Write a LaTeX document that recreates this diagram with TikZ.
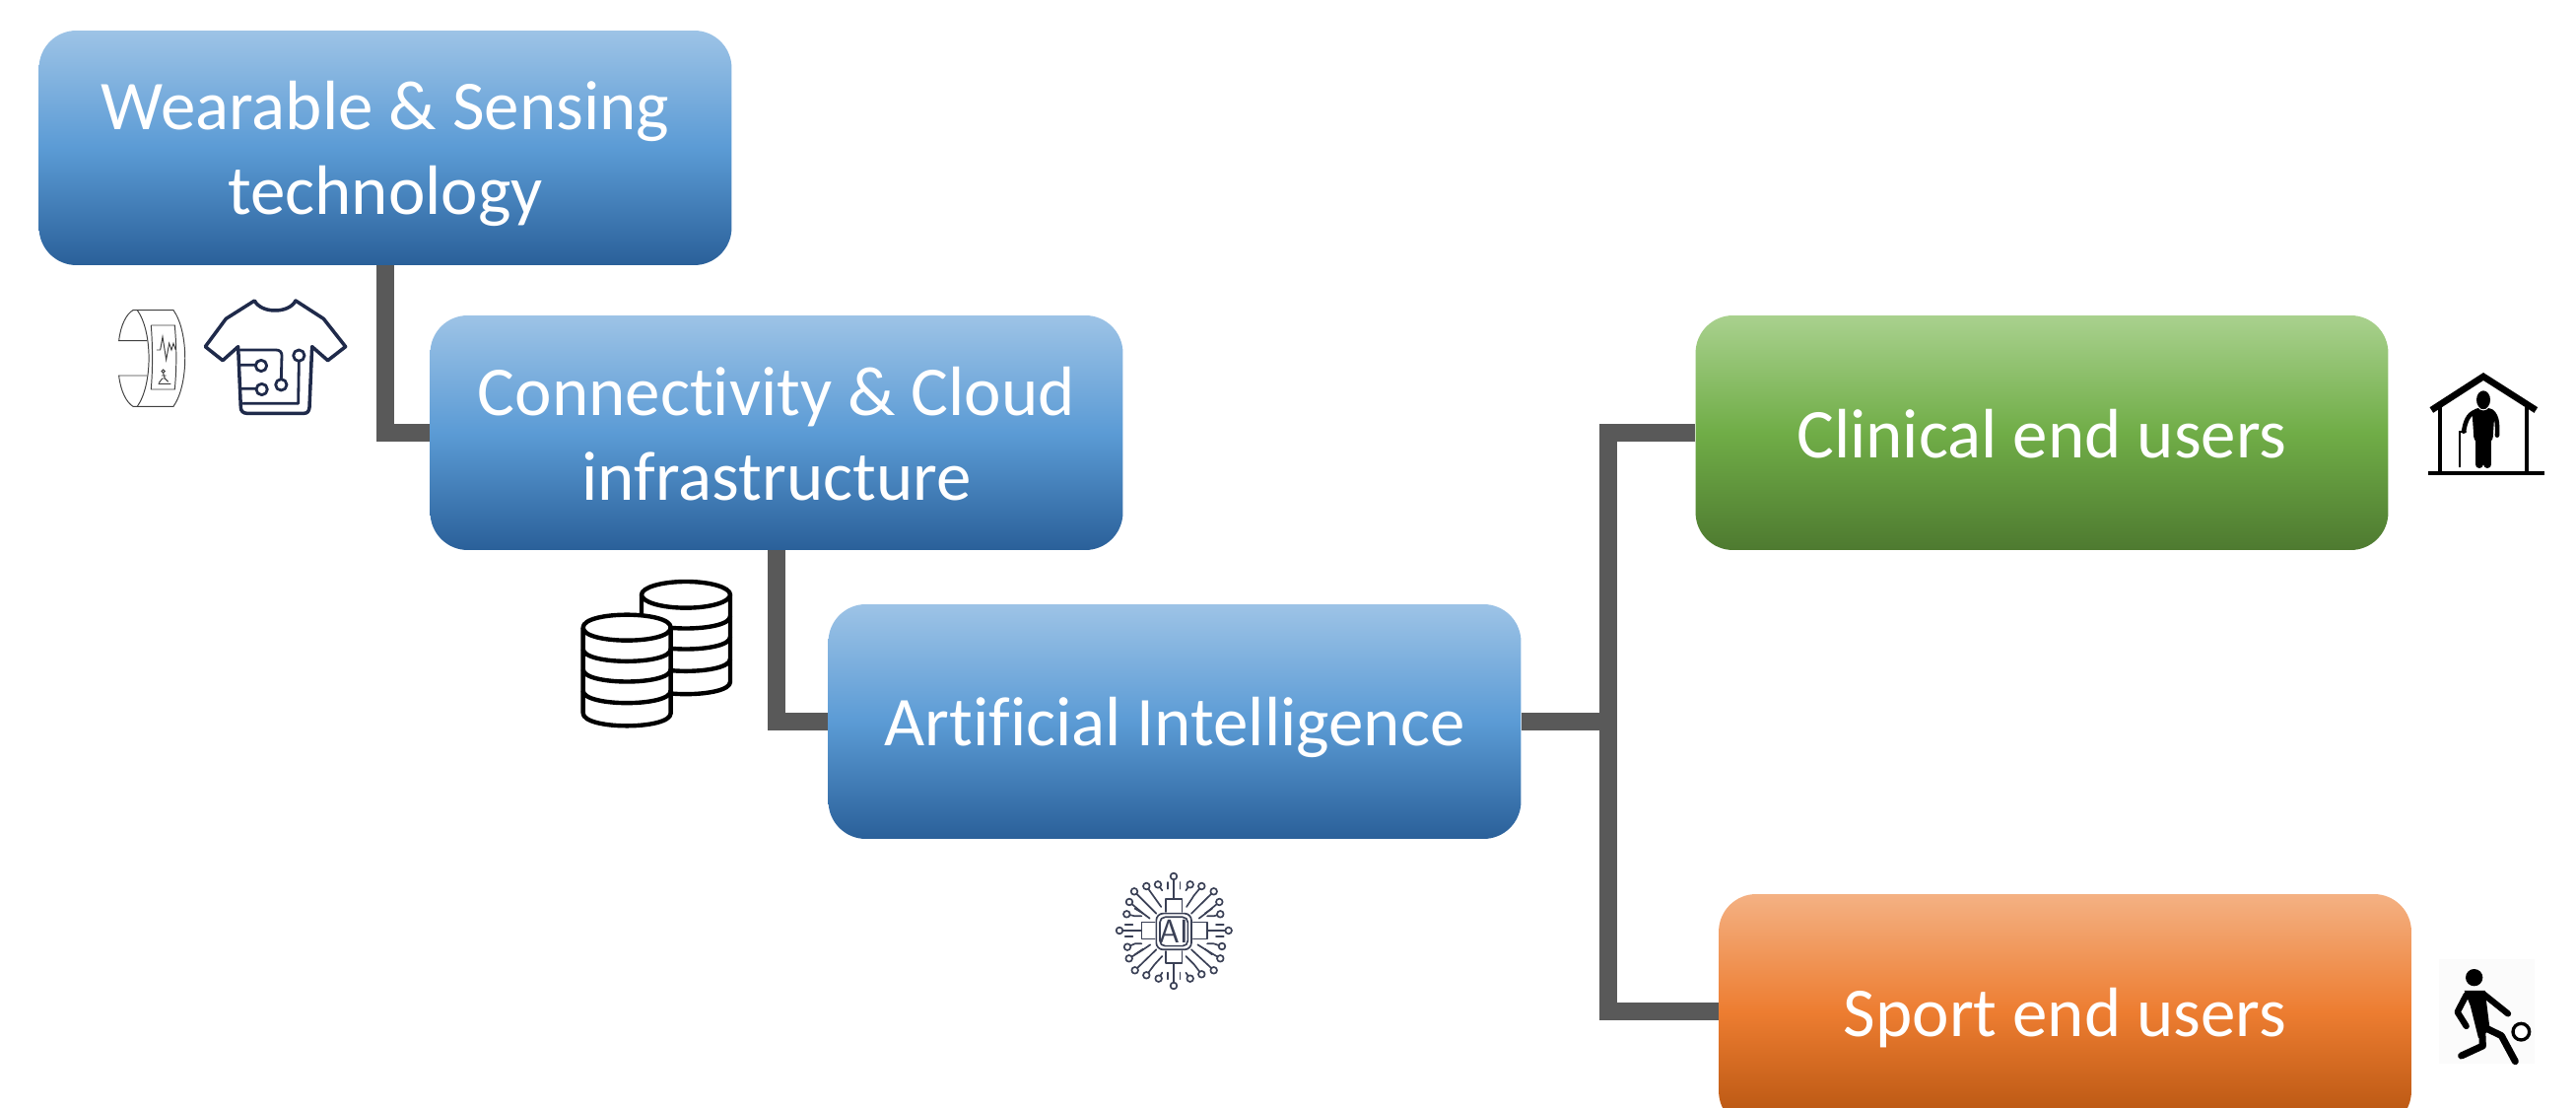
\documentclass[tikz,border=0pt]{standalone}
\usepackage{fontspec}
\setmainfont[RawFeature={-liga;-clig}]{Carlito}
\definecolor{btop}{HTML}{9DC3E6}\definecolor{bmid}{HTML}{5B9BD5}\definecolor{bbot}{HTML}{2A6099}
\definecolor{gtop}{HTML}{A9D18E}\definecolor{gmid}{HTML}{70AD47}\definecolor{gbot}{HTML}{4E7A30}
\definecolor{otop}{HTML}{F4B183}\definecolor{omid}{HTML}{ED7D31}\definecolor{obot}{HTML}{B4530F}
\definecolor{linkgrey}{HTML}{595959}
\definecolor{navy}{HTML}{1F2A4A}
\definecolor{slate}{HTML}{3A4055}
\definecolor{bandgrey}{HTML}{404040}
\pgfdeclareverticalshading{blueg}{100bp}{color(0bp)=(bbot);color(25bp)=(bbot);color(50bp)=(bmid);color(75bp)=(btop);color(100bp)=(btop)}
\pgfdeclareverticalshading{greeng}{100bp}{color(0bp)=(gbot);color(25bp)=(gbot);color(50bp)=(gmid);color(75bp)=(gtop);color(100bp)=(gtop)}
\pgfdeclareverticalshading{orangeg}{100bp}{color(0bp)=(obot);color(25bp)=(obot);color(50bp)=(omid);color(75bp)=(otop);color(100bp)=(otop)}
\newcommand{\firstl}{\rule{0pt}{35pt}}
\newcommand{\lastl}{\rule[-6.1pt]{0pt}{6.1pt}}
\tikzset{
  x=0.02cm,y=-0.02cm,
  box/.style={rounded corners=0.76cm,minimum width=14.06cm,minimum height=4.76cm,inner sep=0pt,text=white,align=center,
    font=\fontsize{40.4}{49}\selectfont},
  link/.style={draw=linkgrey,line width=18*0.02cm},
  zoomat/.style 2 args={shift={(#1,#2)},x=0.0066667cm,y=-0.0066667cm},
}
\begin{document}
\begin{tikzpicture}
\useasboundingbox (0,0) rectangle (2614,1124);
\clip (0,0) rectangle (2614,1124);
\fill[white] (0,0) rectangle (2614,1124);
\node[box,shading=blueg] (wear) at (391,150) {\firstl Wearable \& Sensing\\technology\lastl};
\node[box,shading=blueg] (conn) at (788,439) {\firstl Connectivity \& Cloud\\infrastructure\lastl};
\node[box,shading=blueg] (ai) at (1192,732) {\firstl Artificial Intelligence\lastl};
\node[box,shading=greeng] (clin) at (2072,439) {\firstl Clinical end users\lastl};
\node[box,shading=orangeg] (sport) at (2095.5,1026) {\firstl Sport end users\lastl};
\coordinate (trunk) at (1632,732);
\draw[link] (wear.south) |- (conn.west);
\draw[link] (conn.south) |- (ai.west);
\draw[link] (ai.east) -- (trunk);
\draw[link,line join=miter] (clin.west) -- (trunk |- clin.west) -- (trunk |- sport.west) -- (sport.west);
% wrist band
\begin{scope}[zoomat={90}{280},draw=bandgrey,line width=0.55pt]
\draw (178,197) -- (92,197) .. controls (97,150) and (115,115) .. (135,104) -- (258,104) .. controls (305,170) and (305,330) .. (258,397) -- (135,397) .. controls (115,385) and (97,350) .. (92,303) -- (178,303);
\draw (148,104) .. controls (195,170) and (195,330) .. (148,397);
\draw (190,150) -- (262,150) .. controls (268,220) and (268,280) .. (262,345) -- (190,345) .. controls (195,280) and (195,220) .. (190,150);
\draw (207,225) -- (218,225) -- (225,185) -- (236,255) -- (245,205) -- (252,225) -- (258,205) -- (265,225);
\draw (227,290) circle [radius=5];
\draw (227,296) -- (232,312) -- (242,322) (214,325) -- (224,312) -- (232,312) (222,303) -- (236,303) (212,328) -- (250,328);
\end{scope}
% shirt
\begin{scope}[zoomat={90}{280},draw=navy,line width=2pt,line join=round,line cap=round]
\draw (455,215) -- (408,257) -- (355,215) -- (418,130) -- (505,75) .. controls (525,115) and (610,115) .. (630,75) -- (715,130) -- (782,215) -- (728,257) -- (680,215) -- (672,400) .. controls (671,412) and (665,418) .. (655,418) -- (482,418) .. controls (470,418) and (463,410) .. (463,400) -- cycle;
\draw[line width=1.6pt] (462,225) -- (570,225) .. controls (582,225) and (588,232) .. (588,242) -- (586,313);
\draw[line width=1.6pt] (586,331) circle [radius=17];
\draw[line width=1.6pt] (462,271) -- (507,271) (525,273) circle [radius=17];
\draw[line width=1.6pt] (462,343) -- (510,343) (527,345) circle [radius=17];
\draw[line width=1.6pt] (640,242) circle [radius=17] (640,260) -- (638,388) -- (470,388);
\end{scope}
% databases
\begin{scope}[zoomat={570}{570},draw=black,line width=2.5pt,line join=round]
\draw[fill=white] (378,100) ellipse [x radius=135,y radius=40];
\draw (243,100) -- (243,160) (513,100) -- (513,365) .. controls (513,415) and (243,415) .. (243,365);
\foreach \q in {165,228,295}{\draw (243,\q) .. controls (243,\q+50) and (513,\q+50) .. (513,\q);}
\draw[fill=white] (65,200) -- (65,460) .. controls (65,512) and (332,512) .. (332,460) -- (332,200) .. controls (332,148) and (65,148) .. (65,200) -- cycle;
\draw (65,200) .. controls (65,252) and (332,252) .. (332,200);
\foreach \q in {265,327,392}{\draw (65,\q) .. controls (65,\q+50) and (332,\q+50) .. (332,\q);}
\end{scope}
% AI chip
\begin{scope}[zoomat={1110}{870},draw=slate,line width=0.95pt,line cap=round,line join=round]
\draw[rounded corners=4pt] (190,170) rectangle (297,280);
\draw[rounded corners=3pt] (201,181) rectangle (286,269);
\node[text=slate,font=\fontsize{19}{19}\selectfont\sffamily] (chipai) at (243,225) {AI};
\foreach \a/\b/\c/\d/\e/\f in {
 123/103/190/170/190/170, 365/103/297/170/297/170,
 125/343/190/280/190/280, 365/343/297/280/297/280,
 160/87/180/115/205/150, 328/87/305/115/282/150,
 195/82/208/100/208/100, 293/82/280/100/280/100,
 108/135/150/170/170/185, 382/135/340/170/320/185,
 100/172/125/178/145/178, 385/172/365/178/345/178,
 102/272/125/262/145/262, 390/270/365/262/345/262,
 107/307/150/280/172/265, 385/307/340/280/316/265,
 160/358/185/325/208/300, 328/355/305/325/280/300,
 197/368/208/350/208/350, 293/368/280/350/280/350}{
 \draw (\a,\b) -- (\c,\d) -- (\e,\f);
}
\foreach \a/\b in {243/57,195/82,160/87,123/103,108/135,100/172,78/222,102/272,107/307,125/343,160/358,197/368,243/390,293/368,328/355,365/343,385/307,390/270,410/222,385/172,382/135,365/103,328/87,293/82}{
 \draw[fill=white] (\a,\b) circle [radius=10];
}
\draw (243,67) -- (243,125) (218,165) -- (218,125) -- (268,125) -- (268,165);
\draw (243,380) -- (243,322) (218,285) -- (218,322) -- (268,322) -- (268,285);
\draw (88,222) -- (145,222) (185,197) -- (145,197) -- (145,248) -- (185,248);
\draw (400,222) -- (345,222) (302,197) -- (345,197) -- (345,248) -- (302,248);
\draw (225,75) -- (225,95) (262,75) -- (262,95) (225,350) -- (225,370) (262,350) -- (262,370);
\draw (95,205) -- (118,205) (95,240) -- (118,240) (372,205) -- (395,205) (372,240) -- (395,240);
\draw (125,155) -- (150,170) (360,155) -- (338,170) (125,295) -- (150,278) (360,295) -- (338,278);
\end{scope}
% house
\begin{scope}[zoomat={2440}{360},draw=black,fill=black]
\draw[line width=3.8pt,line join=miter] (82,168) -- (240,66) -- (400,168);
\draw[line width=2.3pt] (107,160) -- (107,358) (372,160) -- (372,358);
\draw[line width=1.9pt] (72,360) -- (427,360);
\fill[rounded corners=4pt] (205,162) -- (275,162) -- (268,270) -- (212,270) -- cycle;
\draw[line width=2.6pt,line cap=round] (218,172) .. controls (192,180) and (185,205) .. (180,233);
\draw[line width=2.6pt,line cap=round] (265,172) .. controls (285,190) and (282,215) .. (282,245);
\draw[line width=4.6pt,line cap=round] (227,260) -- (227,333) (253,260) -- (253,333);
\draw[white,line width=0.6pt] (222,155) .. controls (230,172) and (250,172) .. (258,155);
\fill (240,137) ellipse [x radius=21,y radius=28];
\draw[line width=1.3pt,line cap=round] (167,340) -- (167,235) -- (186,235);
\end{scope}
% player
\begin{scope}[zoomat={2460}{960},draw=black,fill=black,line cap=round,line join=round]
\fill[black!1.5] (45,40) rectangle (335,357);
\fill (152,95) circle [radius=26];
\fill (122,135) -- (185,135) -- (200,255) -- (165,280) -- (140,180) -- cycle;
\draw[line width=3.6pt] (128,148) -- (101,200) -- (128,243);
\draw[line width=3.6pt] (180,145) -- (255,205);
\draw[line width=4pt] (176,250) -- (178,303) -- (113,333);
\draw[line width=4pt] (190,250) -- (235,272) -- (277,350);
\draw[line width=1.9pt,fill=white] (295,260) circle [radius=25];
\end{scope}
\end{tikzpicture}
\end{document}
